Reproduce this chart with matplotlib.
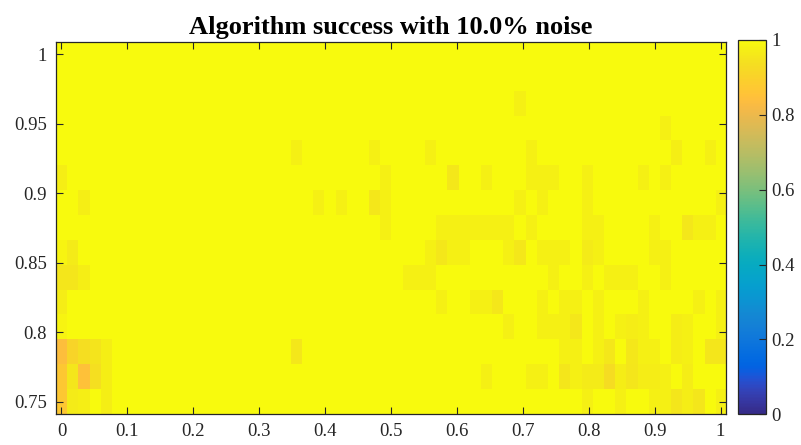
import numpy as np
import matplotlib
matplotlib.use("Agg")
import matplotlib.pyplot as plt
from matplotlib.colors import LinearSegmentedColormap

plt.rcParams['font.family'] = ['Liberation Serif', 'DejaVu Serif']

# ---- data ----
x_first, x_last, n_cols = 0.0, 1.0, 60
y_first, y_last, n_rows = 0.75, 1.0, 15

# success rate, rows listed top (y = 1.0) to bottom (y = 0.75)
success = [
    [1, 1, 1, 1, 1, 1, 1, 1, 1, 1,  1, 1, 1, 1, 1, 1, 1, 1, 1, 1,  1, 1, 1, 1, 1, 1, 1, 1, 1, 1,
     1, 1, 1, 1, 1, 1, 1, 1, 1, 1,  1, 1, 1, 1, 1, 1, 1, 1, 1, 1,  1, 1, 1, 1, 1, 1, 1, 1, 1, 1],
    [1, 1, 1, 1, 1, 1, 1, 1, 1, 1,  1, 1, 1, 1, 1, 1, 1, 1, 1, 1,  1, 1, 1, 1, 1, 1, 1, 1, 1, 1,
     1, 1, 1, 1, 1, 1, 1, 1, 1, 1,  1, 1, 1, 1, 1, 1, 1, 1, 1, 1,  1, 1, 1, 1, 1, 1, 1, 1, 1, 1],
    [1, 1, 1, 1, 1, 1, 1, 1, 1, 1,  1, 1, 1, 1, 1, 1, 1, 1, 1, 1,  1, 1, 1, 1, 1, 1, 1, 1, 1, 1,
     1, 1, 1, 1, 1, 1, 1, 1, 1, 1,  1, .98, 1, 1, 1, 1, 1, 1, 1, 1,  1, 1, 1, 1, 1, 1, 1, 1, 1, 1],
    [1, 1, 1, 1, 1, 1, 1, 1, 1, 1,  1, 1, 1, 1, 1, 1, 1, 1, 1, 1,  1, 1, 1, 1, 1, 1, 1, 1, 1, 1,
     1, 1, 1, 1, 1, 1, 1, 1, 1, 1,  1, 1, 1, 1, 1, 1, 1, 1, 1, 1,  1, 1, 1, 1, .98, 1, 1, 1, 1, 1],
    [1, 1, 1, 1, 1, 1, 1, 1, 1, 1,  1, 1, 1, 1, 1, 1, 1, 1, 1, 1,  1, .98, 1, 1, 1, 1, 1, 1, .98, 1,
     1, 1, 1, .98, 1, 1, 1, 1, 1, 1,  1, 1, .98, 1, 1, 1, 1, 1, 1, 1,  1, 1, 1, 1, 1, .975, 1, 1, .98, 1],
    [.975, 1, 1, 1, 1, 1, 1, 1, 1, 1,  1, 1, 1, 1, 1, 1, 1, 1, 1, 1,  1, 1, 1, 1, 1, 1, 1, 1, 1, .98,
     1, 1, 1, 1, 1, .96, 1, 1, .98, 1,  1, 1, .98, .98, .98, 1, 1, .98, 1, 1,  1, 1, .98, 1, .98, 1, 1, 1, 1, 1],
    [1, 1, .975, 1, 1, 1, 1, 1, 1, 1,  1, 1, 1, 1, 1, 1, 1, 1, 1, 1,  1, 1, 1, .98, 1, .98, 1, 1, .96, .98,
     1, 1, 1, 1, 1, 1, 1, 1, 1, 1,  1, .98, 1, .98, 1, 1, 1, .98, 1, 1,  1, 1, 1, 1, 1, 1, 1, 1, 1, .98],
    [1, 1, 1, 1, 1, 1, 1, 1, 1, 1,  1, 1, 1, 1, 1, 1, 1, 1, 1, 1,  1, 1, 1, 1, 1, 1, 1, 1, 1, .98,
     1, 1, 1, 1, .98, .98, .98, .98, .98, .98,  .98, 1, .98, 1, 1, 1, 1, .98, .98, 1,  1, 1, 1, .98, 1, 1, .96, .98, .98, 1],
    [.985, .965, 1, 1, 1, 1, 1, 1, 1, 1,  1, 1, 1, 1, 1, 1, 1, 1, 1, 1,  1, 1, 1, 1, 1, 1, 1, 1, 1, 1,
     1, 1, 1, .98, .96, .98, .98, 1, 1, 1,  .98, .96, 1, .98, .98, .98, 1, .965, .98, 1,  1, 1, 1, .98, .98, 1, 1, 1, 1, 1],
    [.955, .955, .975, 1, 1, 1, 1, 1, 1, 1,  1, 1, 1, 1, 1, 1, 1, 1, 1, 1,  1, 1, 1, 1, 1, 1, 1, 1, 1, 1,
     1, .98, .98, .98, 1, 1, 1, 1, 1, 1,  1, 1, 1, 1, .98, 1, 1, .98, 1, .98,  .98, .98, 1, 1, .98, 1, 1, 1, 1, 1],
    [.97, 1, 1, 1, 1, 1, 1, 1, 1, 1,  1, 1, 1, 1, 1, 1, 1, 1, 1, 1,  1, 1, 1, 1, 1, 1, 1, 1, 1, 1,
     1, 1, 1, 1, .98, 1, 1, .98, .98, .96,  1, 1, 1, .98, 1, .98, .98, 1, .98, 1,  1, 1, .98, 1, 1, 1, 1, .98, 1, .98],
    [.985, 1, 1, 1, 1, 1, 1, 1, 1, 1,  1, 1, 1, 1, 1, 1, 1, 1, 1, 1,  1, 1, 1, 1, 1, 1, 1, 1, 1, 1,
     1, 1, 1, 1, 1, 1, 1, 1, 1, 1,  .98, 1, 1, .98, .98, .98, .96, 1, .98, 1,  .98, .97, .98, 1, 1, .97, .98, 1, 1, .98],
    [.84, .91, .935, .95, .975, 1, 1, 1, 1, 1,  1, 1, 1, 1, 1, 1, 1, 1, 1, 1,  1, .96, 1, 1, 1, 1, 1, 1, 1, 1,
     1, 1, 1, 1, 1, 1, 1, 1, 1, 1,  1, 1, 1, 1, 1, .98, .98, 1, .98, .96,  1, .96, .98, .98, 1, .97, .98, 1, .955, .955],
    [.87, .955, .85, .94, .975, 1, 1, 1, 1, 1,  1, 1, 1, 1, 1, 1, 1, 1, 1, 1,  1, 1, 1, 1, 1, 1, 1, 1, 1, 1,
     1, 1, 1, 1, 1, 1, 1, 1, .98, 1,  1, 1, .98, .98, 1, .955, .98, .965, .965, .93,  .97, .955, .97, .97, .98, 1, .97, 1, 1, 1],
    [.87, .965, .975, 1, .975, 1, 1, 1, 1, 1,  1, 1, 1, 1, 1, 1, 1, 1, 1, 1,  1, 1, 1, 1, 1, 1, 1, 1, 1, 1,
     1, 1, 1, 1, 1, 1, 1, 1, 1, 1,  1, 1, 1, 1, 1, 1, 1, .98, 1, 1,  .98, 1, 1, .98, .98, .955, .97, .955, 1, .98],
]

x_ticks = [0, 0.1, 0.2, 0.3, 0.4, 0.5, 0.6, 0.7, 0.8, 0.9, 1]
x_tick_labels = ['0', '0.1', '0.2', '0.3', '0.4', '0.5', '0.6', '0.7', '0.8', '0.9', '1']
y_ticks = [0.75, 0.8, 0.85, 0.9, 0.95, 1]
y_tick_labels = ['0.75', '0.8', '0.85', '0.9', '0.95', '1']
cb_ticks = [0, 0.2, 0.4, 0.6, 0.8, 1]
cb_tick_labels = ['0', '0.2', '0.4', '0.6', '0.8', '1']
title = 'Algorithm success with 10.0% noise'

# ---- parula colormap ----
parula_data = [
    [0.2081, 0.1663, 0.5292], [0.2116, 0.1898, 0.5777], [0.2123, 0.2138, 0.6270], [0.2081, 0.2386, 0.6771],
    [0.1959, 0.2645, 0.7279], [0.1707, 0.2919, 0.7792], [0.1253, 0.3242, 0.8303], [0.0591, 0.3598, 0.8683],
    [0.0117, 0.3875, 0.8820], [0.0060, 0.4086, 0.8828], [0.0165, 0.4266, 0.8786], [0.0329, 0.4430, 0.8720],
    [0.0498, 0.4586, 0.8641], [0.0629, 0.4737, 0.8554], [0.0723, 0.4887, 0.8467], [0.0779, 0.5040, 0.8384],
    [0.0793, 0.5200, 0.8312], [0.0749, 0.5375, 0.8263], [0.0641, 0.5570, 0.8240], [0.0488, 0.5772, 0.8228],
    [0.0343, 0.5966, 0.8199], [0.0265, 0.6137, 0.8135], [0.0239, 0.6287, 0.8038], [0.0231, 0.6418, 0.7913],
    [0.0228, 0.6535, 0.7768], [0.0267, 0.6642, 0.7607], [0.0384, 0.6743, 0.7436], [0.0590, 0.6838, 0.7254],
    [0.0843, 0.6928, 0.7062], [0.1133, 0.7015, 0.6859], [0.1453, 0.7098, 0.6646], [0.1801, 0.7177, 0.6424],
    [0.2178, 0.7250, 0.6193], [0.2586, 0.7317, 0.5954], [0.3022, 0.7376, 0.5712], [0.3482, 0.7424, 0.5473],
    [0.3953, 0.7459, 0.5244], [0.4420, 0.7481, 0.5033], [0.4871, 0.7491, 0.4840], [0.5300, 0.7491, 0.4661],
    [0.5709, 0.7485, 0.4494], [0.6099, 0.7473, 0.4337], [0.6473, 0.7456, 0.4188], [0.6834, 0.7435, 0.4044],
    [0.7184, 0.7411, 0.3905], [0.7525, 0.7384, 0.3768], [0.7858, 0.7356, 0.3633], [0.8185, 0.7327, 0.3498],
    [0.8507, 0.7299, 0.3360], [0.8824, 0.7274, 0.3217], [0.9139, 0.7258, 0.3063], [0.9450, 0.7261, 0.2886],
    [0.9739, 0.7314, 0.2666], [0.9938, 0.7455, 0.2403], [0.9990, 0.7653, 0.2164], [0.9955, 0.7861, 0.1967],
    [0.9880, 0.8066, 0.1794], [0.9789, 0.8271, 0.1633], [0.9697, 0.8481, 0.1475], [0.9626, 0.8705, 0.1309],
    [0.9589, 0.8949, 0.1132], [0.9598, 0.9218, 0.0948], [0.9661, 0.9514, 0.0755], [0.9763, 0.9831, 0.0538],
]
parula = LinearSegmentedColormap.from_list('parula', parula_data, N=256)

# ---- figure ----
W, H = 801, 445
fig = plt.figure(figsize=(W / 100, H / 100), dpi=100)
ax = fig.add_axes([55.9 / W, 1 - 414.4 / H, (726.1 - 55.9) / W, (414.4 - 41.6) / H])
cax = fig.add_axes([738.3 / W, 1 - 414.3 / H, (766.0 - 738.3) / W, (414.3 - 40.0) / H])

Z = np.array(success, dtype=float)
dx = (x_last - x_first) / (n_cols - 1)
dy = (y_last - y_first) / (n_rows - 1)
extent = [x_first - dx / 2, x_last + dx / 2, y_first - dy / 2, y_last + dy / 2]
im = ax.imshow(Z, cmap=parula, vmin=0, vmax=1, origin='upper', extent=extent,
               aspect='auto', interpolation='nearest')

dark = (0.15, 0.15, 0.15)
ax.set_xticks(x_ticks)
ax.set_xticklabels(x_tick_labels)
ax.set_yticks(y_ticks)
ax.set_yticklabels(y_tick_labels)
ax.tick_params(direction='in', top=True, right=True, length=5, width=0.8,
               colors=dark, labelsize=13.5)
ax.tick_params(axis='x', pad=6.5)
ax.tick_params(axis='y', pad=6.5)
for s in ax.spines.values():
    s.set_color(dark)
    s.set_linewidth(0.9)
ax.set_title(title, fontsize=19, fontweight='bold', pad=5.5, color='black')

cb = fig.colorbar(im, cax=cax, ticks=cb_ticks)
cb.ax.set_yticklabels(cb_tick_labels)
cb.ax.tick_params(direction='in', length=5, width=0.8, colors=dark, labelsize=13.5, pad=4)
cb.outline.set_edgecolor(dark)
cb.outline.set_linewidth(0.9)

fig.savefig('out.png', dpi=100)
